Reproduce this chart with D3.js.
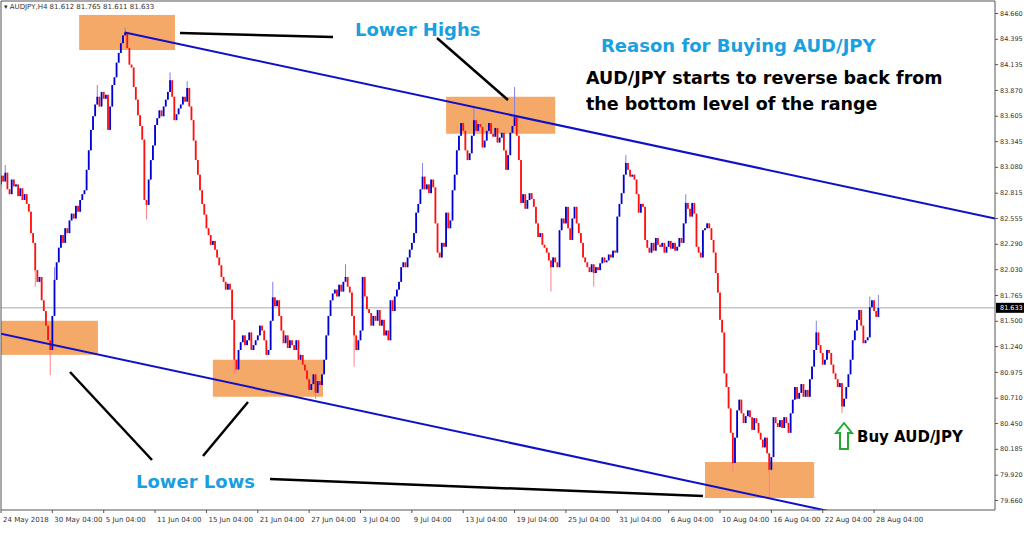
<!DOCTYPE html>
<html>
<head>
<meta charset="utf-8">
<script src="https://cdn.jsdelivr.net/npm/d3@7"></script>
<style>
  body { margin: 0; background: #fff; }
  text { font-family: "DejaVu Sans", sans-serif; }
</style>
</head>
<body>
<svg id="chart" width="1024" height="533"></svg>
<script>
// AUDJPY H4 closes, one per candle (open = previous close)
var closes = [
  82.99, 82.93, 83.02, 82.85, 82.80, 82.95, 82.88, 82.90, 82.78, 82.86,
  82.74, 82.80, 82.70, 82.62, 82.40, 82.30, 82.02, 81.90, 81.95, 81.71,
  81.60, 81.45, 81.30, 81.20, 81.55, 81.92, 82.10, 82.25, 82.38, 82.30,
  82.45, 82.40, 82.53, 82.60, 82.55, 82.68, 82.62, 82.74, 82.80, 82.84,
  83.05, 83.25, 83.46, 83.60, 83.72, 83.80, 83.70, 83.85, 83.78, 83.82,
  83.46, 83.70, 83.92, 84.00, 84.15, 84.25, 84.35, 84.43, 84.46, 84.30,
  84.13, 84.10, 83.90, 83.77, 83.61, 83.50, 83.36, 82.74, 82.69, 82.95,
  83.15, 83.30, 83.51, 83.58, 83.66, 83.60, 83.70, 83.77, 83.85, 83.97,
  83.80, 83.56, 83.62, 83.68, 83.72, 83.80, 83.75, 83.89, 83.70, 83.56,
  83.35, 83.15, 83.00, 82.84, 82.70, 82.59, 82.45, 82.38, 82.28, 82.32,
  82.23, 82.15, 82.07, 81.95, 81.90, 81.82, 81.88, 81.82, 81.51, 81.10,
  81.00, 81.20, 81.28, 81.35, 81.25, 81.30, 81.38, 81.20, 81.25, 81.30,
  81.35, 81.45, 81.40, 81.30, 81.15, 81.20, 81.50, 81.74, 81.65, 81.71,
  81.55, 81.40, 81.27, 81.35, 81.22, 81.30, 81.25, 81.20, 81.30, 81.10,
  81.15, 81.05, 80.99, 80.90, 80.79, 80.85, 80.95, 80.76, 80.88, 80.84,
  80.95, 81.10, 81.35, 81.55, 81.71, 81.78, 81.82, 81.75, 81.87, 81.80,
  81.90, 81.95, 81.85, 81.79, 81.55, 81.35, 81.20, 81.30, 81.40, 81.95,
  81.75, 81.62, 81.58, 81.45, 81.55, 81.50, 81.61, 81.45, 81.51, 81.35,
  81.40, 81.30, 81.71, 81.60, 81.75, 81.82, 81.90, 82.05, 82.10, 82.05,
  82.15, 82.23, 82.30, 82.40, 82.61, 82.70, 82.85, 82.98, 82.85, 82.90,
  82.81, 82.95, 82.87, 82.50, 82.20, 82.15, 82.30, 82.26, 82.61, 82.45,
  82.53, 82.84, 83.00, 83.25, 83.40, 83.53, 83.45, 83.25, 83.15, 83.22,
  83.40, 83.56, 83.45, 83.52, 83.49, 83.28, 83.35, 83.45, 83.53, 83.42,
  83.39, 83.48, 83.33, 83.38, 83.43, 83.25, 83.05, 83.20, 83.43, 83.50,
  83.59, 83.40, 83.15, 82.71, 82.80, 82.65, 82.74, 82.81, 82.75, 82.67,
  82.50, 82.36, 82.40, 82.28, 82.25, 82.20, 82.12, 82.05, 82.15, 82.10,
  82.05, 82.43, 82.55, 82.50, 82.67, 82.45, 82.33, 82.55, 82.67, 82.50,
  82.40, 82.30, 82.15, 82.10, 82.05, 82.00, 82.08, 81.99, 82.05, 82.02,
  82.09, 82.15, 82.10, 82.12, 82.18, 82.15, 82.22, 82.20, 82.57, 82.70,
  82.81, 83.00, 83.12, 83.05, 82.98, 83.00, 82.95, 82.80, 82.61, 82.70,
  82.67, 82.33, 82.25, 82.20, 82.30, 82.22, 82.35, 82.28, 82.26, 82.30,
  82.20, 82.26, 82.32, 82.24, 82.30, 82.22, 82.26, 82.35, 82.30, 82.50,
  82.71, 82.65, 82.57, 82.71, 82.60, 82.26, 82.20, 82.15, 82.43, 82.45,
  82.50, 82.45, 82.33, 82.20, 81.99, 81.79, 81.51, 81.38, 80.96, 80.82,
  80.60, 80.35, 80.04, 80.30, 80.58, 80.69, 80.55, 80.45, 80.52, 80.58,
  80.51, 80.38, 80.50, 80.45, 80.35, 80.28, 80.20, 80.30, 80.14, 79.97,
  80.10, 80.51, 80.45, 80.41, 80.48, 80.40, 80.51, 80.45, 80.35, 80.55,
  80.69, 80.82, 80.70, 80.76, 80.85, 80.72, 80.79, 80.72, 80.90, 81.03,
  81.20, 81.38, 81.25, 81.17, 81.05, 81.10, 81.20, 81.17, 81.05, 80.96,
  80.90, 80.82, 80.86, 80.62, 80.70, 80.82, 80.95, 81.10, 81.30, 81.40,
  81.51, 81.61, 81.45, 81.27, 81.30, 81.33, 81.64, 81.71, 81.60, 81.54, 81.63
];
var firstOpen = 82.90;

// notable wicks: [candle index, high, low]
var wicks = [
  [2, 83.10, null], [16, null, 81.85], [23, null, 80.94], [25, 82.05, null],
  [45, 83.92, null], [58, 84.51, null], [68, null, 82.54], [79, 84.05, null],
  [87, 83.96, null], [109, null, 80.95], [127, 81.90, null], [147, null, 80.70],
  [161, 82.08, null], [165, null, 81.03], [197, 83.12, null], [221, 83.70, null],
  [240, 83.90, null], [257, null, 81.80], [277, null, 81.85], [292, 83.20, null],
  [320, 82.80, null], [342, null, 79.95], [359, null, 79.69], [381, 81.50, null],
  [393, null, 80.55], [406, 81.75, null], [410, 81.765, 81.611]
];

var priceTicks = [84.660, 84.395, 84.135, 83.870, 83.605, 83.345, 83.080, 82.815,
  82.555, 82.290, 82.030, 81.765, 81.500, 81.240, 80.975, 80.710, 80.450,
  80.185, 79.920, 79.660];
var timeLabels = ["24 May 2018", "30 May 04:00", "5 Jun 04:00", "11 Jun 04:00",
  "15 Jun 04:00", "21 Jun 04:00", "27 Jun 04:00", "3 Jul 04:00", "9 Jul 04:00",
  "13 Jul 04:00", "19 Jul 04:00", "25 Jul 04:00", "31 Jul 04:00", "6 Aug 04:00",
  "10 Aug 04:00", "16 Aug 04:00", "22 Aug 04:00", "28 Aug 04:00"];
var lastPrice = 81.633;

// annotation boxes in [index0, index1, priceTop, priceBottom]
var boxes = [
  [36.5, 81.3, 84.64, 84.28],
  [208, 259, 83.80, 83.42],
  [-1, 45.3, 81.50, 81.15],
  [99, 150.5, 81.10, 80.72],
  [329, 380, 80.05, 79.68]
];
// channel lines [i0, p0, i1, p1]
var channel = [
  [57.9, 84.46, 464.5, 82.55],
  [-0.5, 81.37, 406.1, 79.455]
];

var svg = d3.select("#chart");
var x = d3.scaleLinear().domain([0, 411]).range([1, 880.5]);
var y = d3.scaleLinear().domain([79.660, 84.660]).range([500, 13]);
var right = 995, bottom = 510;

// candles
var candles = closes.map(function (c, i) {
  var o = i == 0 ? firstOpen : closes[i - 1];
  return { i: i, o: o, c: c, h: Math.max(o, c), l: Math.min(o, c) };
});
wicks.forEach(function (w) {
  if (w[1] != null) candles[w[0]].h = w[1];
  if (w[2] != null) candles[w[0]].l = w[2];
});

var plot = svg.append("g");
plot.append("defs").append("clipPath").attr("id", "clip")
  .append("rect").attr("x", 1).attr("y", 1).attr("width", right - 1).attr("height", bottom - 1);
var clipped = plot.append("g").attr("clip-path", "url(#clip)");

// orange boxes
clipped.selectAll("rect.box").data(boxes).enter().append("rect")
  .attr("x", function (d) { return x(d[0]); })
  .attr("y", function (d) { return y(d[2]); })
  .attr("width", function (d) { return x(d[1]) - x(d[0]); })
  .attr("height", function (d) { return y(d[3]) - y(d[2]); })
  .attr("fill", "#f4a460").attr("opacity", 0.95);

// last price line
clipped.append("line")
  .attr("x1", 0).attr("x2", right).attr("y1", y(lastPrice)).attr("y2", y(lastPrice))
  .attr("stroke", "#a8a8b8").attr("stroke-width", 1);

var cg = clipped.selectAll("g.candle").data(candles).enter().append("g");
cg.append("line")
  .attr("x1", function (d) { return x(d.i); }).attr("x2", function (d) { return x(d.i); })
  .attr("y1", function (d) { return y(d.h); }).attr("y2", function (d) { return y(d.l); })
  .attr("stroke", function (d) { return d.c >= d.o ? "#8080e8" : "#ff8080"; })
  .attr("stroke-width", 1);
cg.append("rect")
  .attr("x", function (d) { return x(d.i) - 0.9; })
  .attr("width", 1.8)
  .attr("y", function (d) { return y(Math.max(d.o, d.c)); })
  .attr("height", function (d) { return Math.max(1, Math.abs(y(d.o) - y(d.c))); })
  .attr("fill", function (d) { return d.c >= d.o ? "#0000d0" : "#ff1010"; });

// channel lines
clipped.selectAll("line.ch").data(channel).enter().append("line")
  .attr("x1", function (d) { return x(d[0]); }).attr("y1", function (d) { return y(d[1]); })
  .attr("x2", function (d) { return x(d[2]); }).attr("y2", function (d) { return y(d[3]); })
  .attr("stroke", "#1010c8").attr("stroke-width", 2);

// black pointer lines
var pointers = [[180, 33, 333, 37], [437, 38, 508, 100], [70, 372, 152, 460],
  [203, 456, 248, 402], [270, 479, 703, 496]];
svg.selectAll("line.ptr").data(pointers).enter().append("line")
  .attr("x1", function (d) { return d[0]; }).attr("y1", function (d) { return d[1]; })
  .attr("x2", function (d) { return d[2]; }).attr("y2", function (d) { return d[3]; })
  .attr("stroke", "#000").attr("stroke-width", 2.5);

// frame
svg.append("path").attr("d", "M1,1H" + right + "V" + bottom + "H1Z")
  .attr("fill", "none").attr("stroke", "#555").attr("stroke-width", 1);

// price axis
var yAxis = d3.axisRight(y).tickValues(priceTicks).tickSize(3).tickFormat(d3.format(".3f"));
var ya = svg.append("g").attr("transform", "translate(" + right + ",0)").call(yAxis);
ya.select(".domain").remove();
ya.selectAll("text").attr("font-size", 6.5).attr("fill", "#333").attr("x", 5)
  .attr("font-family", "'Liberation Sans', sans-serif");
ya.selectAll("line").attr("stroke", "#555");

// last price tag
svg.append("rect").attr("x", right + 1).attr("y", y(lastPrice) - 5).attr("width", 28).attr("height", 10).attr("fill", "#000");
svg.append("text").attr("x", right + 5).attr("y", y(lastPrice) + 2.5)
  .attr("font-size", 6.5).attr("font-family", "'Liberation Sans', sans-serif")
  .attr("fill", "#fff").text(lastPrice.toFixed(3));

// time axis
var xa = svg.append("g").attr("transform", "translate(0," + bottom + ")");
xa.selectAll("g").data(timeLabels).enter().append("g").each(function (d, k) {
  var g = d3.select(this);
  var px = x(k * 24);
  g.append("line").attr("x1", px).attr("x2", px).attr("y1", 0).attr("y2", 3).attr("stroke", "#555");
  g.append("text").attr("x", px + 2).attr("y", 12).attr("font-size", 7)
    .attr("font-family", "'Liberation Sans', sans-serif").attr("fill", "#333").text(d);
});

// header
svg.append("text").attr("x", 4).attr("y", 9).attr("font-size", 7)
  .attr("font-family", "'Liberation Sans', sans-serif").attr("fill", "#333")
  .text("\u25BE AUDJPY,H4  81.612 81.765 81.611 81.633");

// annotations
function label(t, px, py, size, color) {
  svg.append("text").attr("x", px).attr("y", py).attr("font-size", size)
    .attr("font-weight", "bold").attr("fill", color).text(t);
}
label("Lower Highs", 355, 36, 18, "#1a9fe0");
label("Reason for Buying AUD/JPY", 601, 52, 18, "#1a9fe0");
label("AUD/JPY starts to reverse back from", 586, 84, 17.5, "#000");
label("the bottom level of the range", 586, 110, 17.5, "#000");
label("Lower Lows", 136, 488, 18, "#1a9fe0");
label("Buy AUD/JPY", 857, 442, 15, "#000");

// green hollow arrow
svg.append("path")
  .attr("d", "M844,423 L852,433 L848,433 L848,449 L840,449 L840,433 L836,433 Z")
  .attr("fill", "#fff").attr("stroke", "#22aa33").attr("stroke-width", 2);
</script>
</body>
</html>
